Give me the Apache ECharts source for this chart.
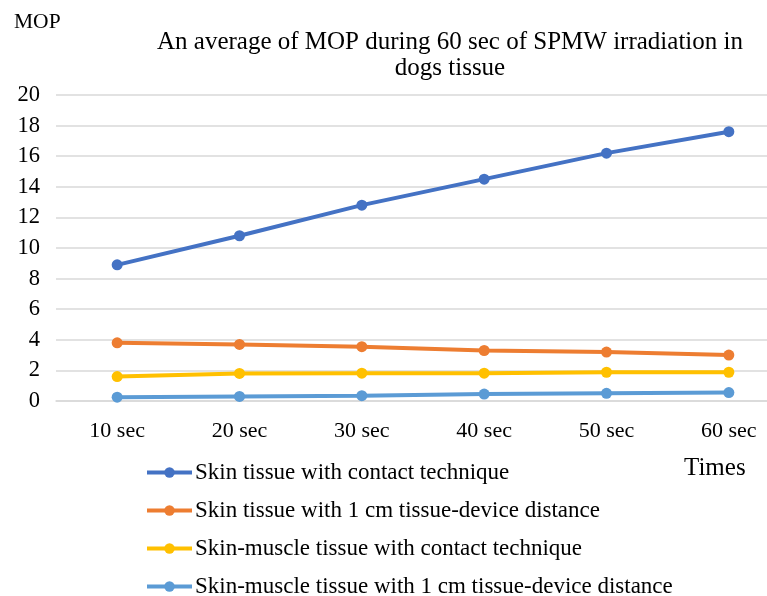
<!DOCTYPE html>
<html>
<head>
<meta charset="utf-8">
<script src="https://cdn.jsdelivr.net/npm/echarts@6/dist/echarts.min.js"></script>
<style>
  html, body { margin: 0; padding: 0; background: #fff; }
  #chart { width: 767px; height: 596px; }
</style>
</head>
<body>
<div id="chart"></div>
<script>
  // data
  var categories = ['10 sec', '20 sec', '30 sec', '40 sec', '50 sec', '60 sec'];
  var skinContact = [8.9, 10.8, 12.8, 14.5, 16.2, 17.6];
  var skinDistance = [3.8, 3.7, 3.55, 3.3, 3.2, 3.0];
  var muscleContact = [1.6, 1.8, 1.82, 1.82, 1.88, 1.88];
  var muscleDistance = [0.25, 0.3, 0.35, 0.45, 0.5, 0.55];
  var seriesNames = [
    'Skin tissue with contact technique',
    'Skin tissue with 1 cm tissue-device distance',
    'Skin-muscle tissue with contact technique',
    'Skin-muscle tissue with 1 cm tissue-device distance'
  ];
  var colors = ['#4472C4', '#ED7D31', '#FFC000', '#5B9BD5'];

  var font = "'Liberation Serif', 'Times New Roman', serif";
  var myChart = echarts.init(document.getElementById('chart'));

  function lineSeries(name, data, color) {
    return {
      name: name,
      type: 'line',
      data: data,
      symbol: 'circle',
      symbolSize: 11,
      lineStyle: { width: 4, color: color },
      itemStyle: { color: color },
      z: 3
    };
  }

  var options = {
    animation: false,
    color: colors,
    title: {
      text: 'An average of MOP during 60 sec of SPMW irradiation in\ndogs tissue',
      left: 445,
      top: 24,
      textAlign: 'center',
      textStyle: { fontFamily: font, fontSize: 25, fontWeight: 'normal', color: '#000', lineHeight: 26, align: 'center' }
    },
    graphic: [
      { type: 'text', left: 14, top: 11, style: { text: 'MOP', fontFamily: font, fontSize: 21.5, fill: '#000' } },
      { type: 'text', left: 684, top: 456, style: { text: 'Times', fontFamily: font, fontSize: 25, fill: '#000' } }
    ],
    legend: {
      orient: 'vertical',
      left: 145,
      top: 461,
      height: 200,
      padding: 0,
      itemWidth: 45,
      itemHeight: 13,
      itemGap: 15,
      lineStyle: { width: 4 },
      textStyle: { fontFamily: font, fontSize: 23, color: '#000', lineHeight: 23, padding: [0, 0, 0, -2] },
      data: seriesNames
    },
    grid: {
      left: 56,
      width: 734,
      top: 95,
      bottom: 195,
      containLabel: false,
      outerBoundsMode: 'none'
    },
    xAxis: {
      type: 'category',
      boundaryGap: true,
      data: categories,
      axisLine: { show: true, lineStyle: { color: '#d9d9d9', width: 1.5 } },
      axisTick: { show: false },
      axisLabel: { fontFamily: font, fontSize: 22, color: '#000', margin: 19 }
    },
    yAxis: {
      type: 'value',
      min: 0,
      max: 20,
      interval: 2,
      axisLine: { show: false },
      axisTick: { show: false },
      axisLabel: { fontFamily: font, fontSize: 22.5, color: '#000', margin: 16 },
      splitLine: { lineStyle: { color: '#d9d9d9', width: 1.5 } }
    },
    series: [
      lineSeries(seriesNames[0], skinContact, colors[0]),
      lineSeries(seriesNames[1], skinDistance, colors[1]),
      lineSeries(seriesNames[2], muscleContact, colors[2]),
      lineSeries(seriesNames[3], muscleDistance, colors[3])
    ]
  };

  myChart.setOption(options);
</script>
</body>
</html>
